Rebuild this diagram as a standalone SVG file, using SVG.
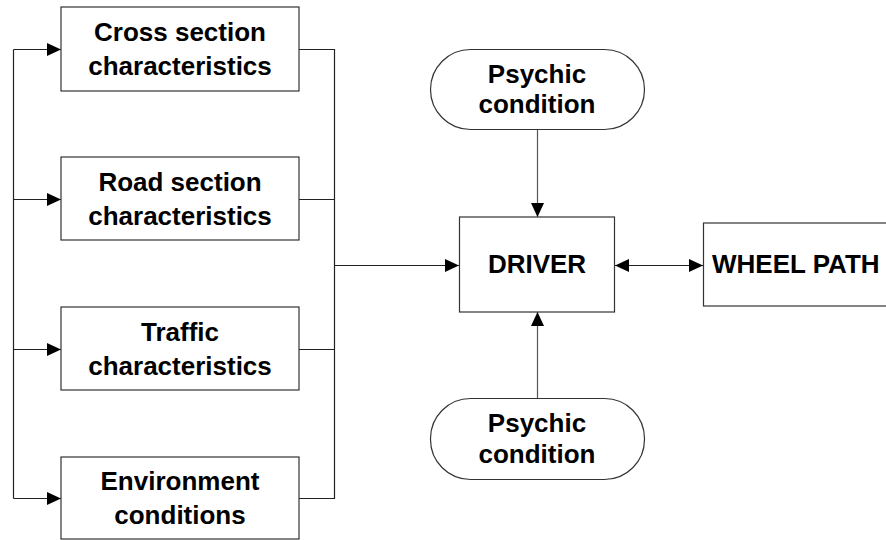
<svg xmlns="http://www.w3.org/2000/svg" width="886" height="540" viewBox="0 0 886 540">
<style>
.box{fill:#fff;stroke:#333;stroke-width:1.2}
.t{font-family:"Liberation Sans",Arial,sans-serif;font-weight:bold;font-size:26px;fill:#000;text-anchor:middle}
.ln{fill:none;stroke:#222;stroke-width:1.2}
.g{fill:none;stroke:#555;stroke-width:1.2}
</style>
<defs>
<marker id="ah" viewBox="0 0 14 13" refX="14" refY="6.5" markerWidth="14" markerHeight="13" markerUnits="userSpaceOnUse" orient="auto-start-reverse">
<path d="M0,0 L14,6.5 L0,13 Z" fill="#000"/>
</marker>
</defs>
<rect width="886" height="540" fill="#fff"/>
<g id="connectors">
<path class="ln" d="M13.5,49.5 V498.5"/>
<path class="ln" d="M13.5,49.5 H61" marker-end="url(#ah)"/>
<path class="ln" d="M13.5,199.5 H61" marker-end="url(#ah)"/>
<path class="ln" d="M13.5,349.5 H61" marker-end="url(#ah)"/>
<path class="ln" d="M13.5,498.5 H61" marker-end="url(#ah)"/>
<path class="ln" d="M299,49.5 H334.5 V498.5 H299"/>
<path class="ln" d="M299,199.5 H334.5"/>
<path class="ln" d="M299,349.5 H334.5"/>
<path class="ln" d="M334.5,265.5 H459" marker-end="url(#ah)"/>
<path class="g" d="M537.5,129 V217" marker-end="url(#ah)"/>
<path class="g" d="M537.5,398 V312" marker-end="url(#ah)"/>
<path class="ln" d="M615,265.5 H703" marker-start="url(#ah)" marker-end="url(#ah)"/>
</g>
<g id="cross">
<rect class="box" x="61" y="7" width="238" height="84"/>
<text class="t" x="180" y="40.5">Cross section</text>
<text class="t" x="180" y="75">characteristics</text>
</g>
<g id="road">
<rect class="box" x="61" y="157" width="238" height="83"/>
<text class="t" x="180" y="190.5">Road section</text>
<text class="t" x="180" y="225">characteristics</text>
</g>
<g id="traffic">
<rect class="box" x="61" y="307" width="238" height="83"/>
<text class="t" x="180" y="340.5">Traffic</text>
<text class="t" x="180" y="375">characteristics</text>
</g>
<g id="environment">
<rect class="box" x="61" y="457" width="238" height="82"/>
<text class="t" x="180" y="489.5">Environment</text>
<text class="t" x="180" y="524">conditions</text>
</g>
<g id="psychic-top">
<rect class="box" x="430.5" y="49.5" width="214" height="80" rx="40" ry="40"/>
<text class="t" x="537" y="83">Psychic</text>
<text class="t" x="537" y="113">condition</text>
</g>
<g id="driver">
<rect class="box" x="459.5" y="217" width="155" height="95"/>
<text class="t" x="537" y="273">DRIVER</text>
</g>
<g id="wheel">
<rect class="box" x="703.5" y="223" width="190" height="83"/>
<text class="t" x="712" y="273" style="text-anchor:start">WHEEL PATH</text>
</g>
<g id="psychic-bottom">
<rect class="box" x="430.5" y="398.5" width="214" height="81" rx="40" ry="40"/>
<text class="t" x="537" y="432">Psychic</text>
<text class="t" x="537" y="463">condition</text>
</g>
</svg>
